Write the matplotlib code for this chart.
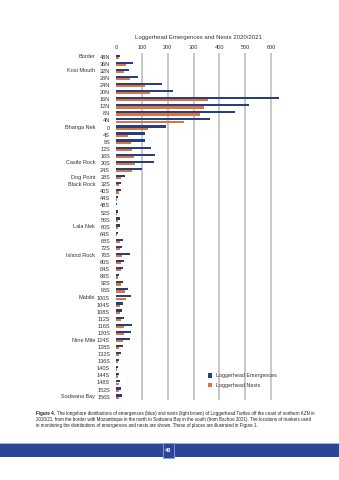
import numpy as np
import matplotlib.pyplot as plt
import matplotlib.transforms as mtransforms
from matplotlib.patches import Rectangle

plt.rcParams['font.family'] = ['Liberation Sans', 'DejaVu Sans']

# marker positions along the coast, north to south
markers = ['48N', '36N', '32N', '28N', '24N', '20N', '16N', '12N', '8N', '4N', '0',
           '4S', '8S', '12S', '16S', '20S', '24S', '28S', '32S', '40S', '44S', '48S',
           '52S', '56S', '60S', '64S', '68S', '72S', '76S', '80S', '84S', '88S', '92S',
           '96S', '100S', '104S', '108S', '112S', '116S', '120S', '124S', '128S', '132S',
           '136S', '140S', '144S', '148S', '152S', '156S']

places = {'48N': 'Border', '32N': 'Kosi Mouth', '0': 'Bhanga Nek', '20S': 'Castle Rock',
          '28S': 'Dog Point', '32S': 'Black Rock', '60S': 'Lala Nek', '76S': 'Island Rock',
          '100S': 'Mabibi', '124S': 'Nine Mile', '156S': 'Sodwana Bay'}

emergences = [15, 64, 49, 84, 179, 219, 631, 515, 459, 365, 194,
              114, 114, 134, 150, 147, 101, 35, 18, 18, 9, 5,
              9, 14, 15, 9, 27, 22, 54, 31, 26, 10, 28,
              45, 57, 27, 23, 31, 63, 57, 55, 26, 19,
              10, 6, 10, 15, 19, 23]

nests = [12, 40, 30, 54, 112, 132, 355, 341, 325, 263, 125,
         48, 58, 61, 68, 74, 61, 19, 13, 10, 5, 1,
         5, 8, 8, 5, 15, 14, 23, 19, 18, 6, 18,
         36, 39, 17, 15, 19, 31, 31, 27, 12, 13,
         6, 4, 6, 10, 12, 13]

W, H = 339, 480
fig = plt.figure(figsize=(W / 100, H / 100), dpi=100)
fig.patch.set_facecolor('white')

ax = fig.add_axes([116 / W, 1 - 400.2 / H, 165.4 / W, 347 / H])
y = np.arange(len(markers))
blue = '#263f7e'
orange = '#dc7440'
ax.barh(y - 0.16, emergences, height=0.31, color=blue, label='Loggerhead Emergences', zorder=3)
ax.barh(y + 0.16, nests, height=0.31, color=orange, label='Loggerhead Nests', zorder=3)

ax.set_xlim(0, 640)
ax.set_ylim(len(markers) - 0.5, -0.5)
ax.set_xticks(np.arange(0, 601, 100))
ax.xaxis.tick_top()
ax.tick_params(axis='x', length=0, pad=2.5, labelsize=4, colors='#333333')
ax.set_yticks(y)
ax.set_yticklabels(markers)
ax.tick_params(axis='y', length=0, pad=4.3, labelsize=4, colors='#333333')
for s in ax.spines.values():
    s.set_visible(False)
for xv in range(100, 601, 100):
    ax.axvline(xv, color='#c4c4c4', lw=1.3, zorder=1)

ax.set_title('Loggerhead Emergences and Nests 2020/2021', fontsize=4.3,
             color='#333333', pad=10)

trans = mtransforms.blended_transform_factory(fig.transFigure, ax.transData)
for i, m in enumerate(markers):
    if m in places:
        ax.text(95 / W, i, places[m], transform=trans, ha='right', va='center',
                fontsize=4, color='#333333')

leg = ax.legend(loc='upper left', bbox_to_anchor=(203 / W, 1 - 368.5 / H),
                bbox_transform=fig.transFigure, frameon=False, fontsize=3.9,
                handlelength=0.85, handleheight=0.85, handletextpad=0.6,
                labelspacing=0.8, labelcolor='#333333')

# caption
cap_x = 36 / W
bold = fig.text(cap_x, 1 - 414 / H, 'Figure 4.', fontsize=3.25, fontweight='bold',
                va='center', color='#222222')
fig.canvas.draw()
bb = bold.get_window_extent().transformed(fig.transFigure.inverted())
fig.text(bb.x1 + 1.5 / W, 1 - 414 / H,
         'The longshore distributions of emergences (blue) and nests (light brown) of '
         'Loggerhead Turtles off the coast of northern KZN in',
         fontsize=3.25, va='center', color='#222222')
fig.text(cap_x, 1 - 420 / H,
         '2020/21, from the border with Mozambique in the north to Sodwana Bay in the '
         'south (from Bachoo 2021). The locations of markers used',
         fontsize=3.25, va='center', color='#222222')
fig.text(cap_x, 1 - 426 / H,
         'in monitoring the distributions of emergences and nests are shown. '
         'These of places are illustrated in Figure 1.',
         fontsize=3.25, va='center', color='#222222')

# page footer band with page number
fig.patches.append(Rectangle((0, 1 - 457 / H), 1, 14 / H, transform=fig.transFigure,
                             facecolor='#2c4598', edgecolor='none'))
fig.patches.append(Rectangle((0, 1 - 443.5 / H), 1, 1 / H, transform=fig.transFigure,
                             facecolor='#9fb0dc', edgecolor='none'))
fig.patches.append(Rectangle((163 / W, 1 - 458 / H), 11 / W, 15 / H,
                             transform=fig.transFigure, facecolor='#2c4598',
                             edgecolor='#8fa3d8', lw=0.6))
fig.text(168.5 / W, 1 - 450.5 / H, '40', fontsize=4, fontweight='bold', color='white',
         ha='center', va='center')

fig.savefig('out.png', dpi=100)
